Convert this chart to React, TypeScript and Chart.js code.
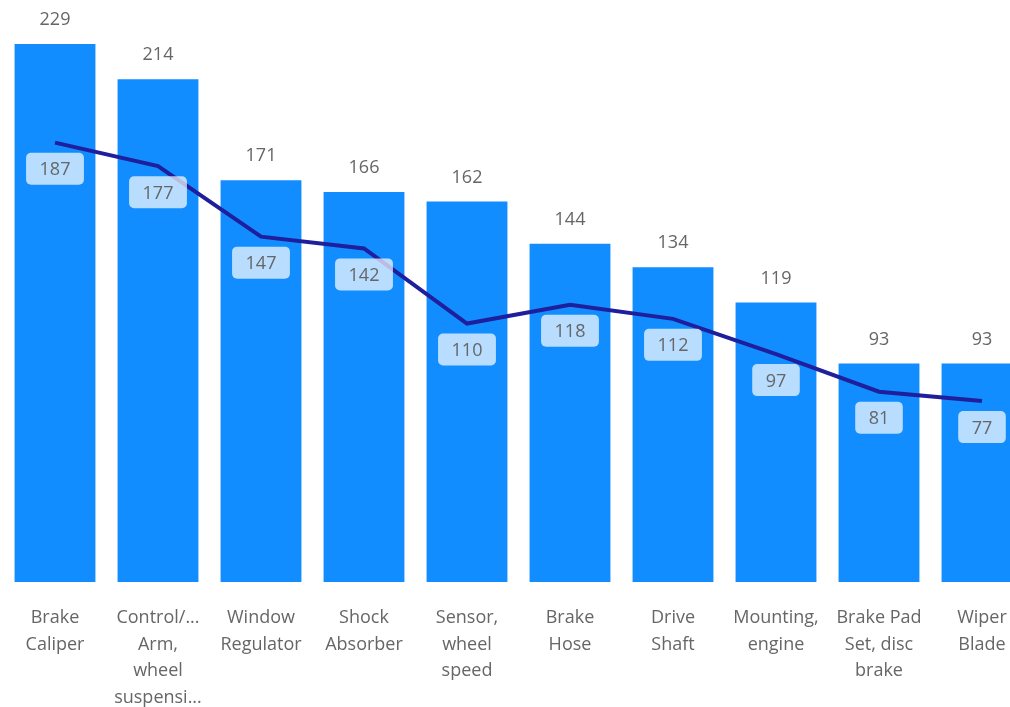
import React, { useEffect, useRef } from "react";
import { Chart, registerables } from "chart.js";

Chart.register(...registerables);

const categories: string[][] = [
  ["Brake", "Caliper"],
  ["Control/...", "Arm,", "wheel", "suspensi..."],
  ["Window", "Regulator"],
  ["Shock", "Absorber"],
  ["Sensor,", "wheel", "speed"],
  ["Brake", "Hose"],
  ["Drive", "Shaft"],
  ["Mounting,", "engine"],
  ["Brake Pad", "Set, disc", "brake"],
  ["Wiper", "Blade"],
];
const barValues = [229, 214, 171, 166, 162, 144, 134, 119, 93, 93];
const lineValues = [187, 177, 147, 142, 110, 118, 112, 97, 81, 77];

const FONT = "'Segoe UI', 'Open Sans', sans-serif";

const labelPlugin = {
  id: "valueLabels",
  afterDatasetsDraw(chart: any) {
    const ctx = chart.ctx;
    ctx.save();
    ctx.font = `18px ${FONT}`;
    ctx.textAlign = "center";
    ctx.textBaseline = "middle";
    // bar labels
    const barMeta = chart.getDatasetMeta(1);
    barMeta.data.forEach((el: any, i: number) => {
      ctx.fillStyle = "#666666";
      ctx.fillText(String(barValues[i]), el.x, el.y - 24);
    });
    // line labels
    const lineMeta = chart.getDatasetMeta(0);
    lineMeta.data.forEach((el: any, i: number) => {
      const txt = String(lineValues[i]);
      const w = ctx.measureText(txt).width + 27;
      const h = 32;
      const cx = el.x;
      const cy = el.y + 26;
      ctx.fillStyle = "rgba(255,255,255,0.7)";
      ctx.beginPath();
      (ctx as any).roundRect(cx - w / 2, cy - h / 2, w, h, 5);
      ctx.fill();
      ctx.fillStyle = "#666666";
      ctx.fillText(txt, cx, cy + 1.5);
    });
    ctx.restore();
  },
};

export default function App() {
  const ref = useRef<HTMLCanvasElement | null>(null);
  useEffect(() => {
    if (!ref.current) return;
    const chart = new Chart(ref.current, {
      type: "bar",
      data: {
        labels: categories,
        datasets: [
          {
            type: "line",
            label: "Line",
            data: lineValues,
            borderColor: "#1f1f9e",
            backgroundColor: "#1f1f9e",
            borderWidth: 4,
            pointRadius: 0,
            tension: 0,
            order: 0,
          } as any,
          {
            type: "bar",
            label: "Bars",
            data: barValues,
            backgroundColor: "#118DFF",
            barPercentage: 0.785,
            categoryPercentage: 1,
            order: 1,
          },
        ],
      },
      options: {
        responsive: false,
        animation: false,
        devicePixelRatio: 1,
        layout: { padding: { left: 3.5, right: 6.5, top: 44, bottom: 0 } },
        plugins: {
          legend: { display: false },
          tooltip: { enabled: false },
        },
        scales: {
          x: {
            grid: { display: false, drawTicks: false },
            border: { display: false },
            ticks: {
              color: "#666666",
              font: { family: FONT, size: 18, lineHeight: 1.47 },
              padding: 23,
              maxRotation: 0,
              autoSkip: false,
            },
            afterFit: (scale: any) => {
              scale.height = 125;
            },
          },
          y: {
            display: false,
            min: 0,
            max: 229,
          },
        },
      },
      plugins: [labelPlugin],
    });
    return () => chart.destroy();
  }, []);
  return (
    <div
      style={{
        position: "fixed",
        left: 0,
        top: 0,
        width: 1010,
        height: 707,
        overflow: "hidden",
        background: "#ffffff",
      }}
    >
      <canvas ref={ref} width={1040} height={707} style={{ width: 1040, height: 707, display: "block" }} />
    </div>
  );
}
